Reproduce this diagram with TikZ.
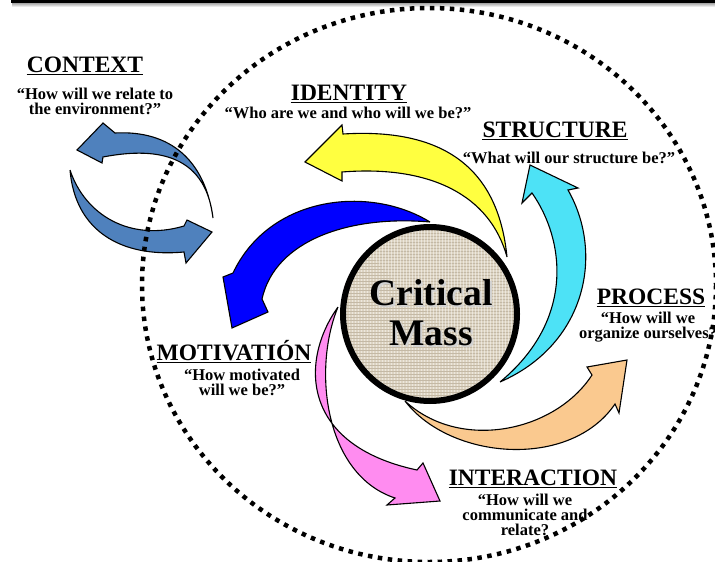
\documentclass[tikz,border=0pt]{standalone}
\usepackage{fontspec}
\setmainfont{Liberation Serif}
\definecolor{ctxblue}{RGB}{79,129,189}
\definecolor{idyellow}{RGB}{255,255,64}
\definecolor{motblue}{RGB}{0,0,255}
\definecolor{strcyan}{RGB}{77,226,246}
\definecolor{procpeach}{RGB}{250,201,143}
\definecolor{intpink}{RGB}{255,140,240}
\definecolor{linen}{RGB}{221,212,194}
\definecolor{linendark}{RGB}{196,185,165}
\begin{document}
\begin{tikzpicture}[x=1pt,y=-1pt,
    swirl/.style={draw=black,line width=1.1pt,line join=miter},
    headlabel/.style={font=\fontsize{23.5}{24}\selectfont\bfseries,inner sep=0pt,anchor=base},
    quotelabel/.style={font=\fontsize{16.5}{15}\selectfont\bfseries,inner sep=0pt,anchor=base,align=center},
    uline/.style={line width=1.6pt}]
  \useasboundingbox (0,0) rectangle (715,562);
  \clip (0,0) rectangle (715,562);
  % frame edge on top
  \shade[top color=gray!70,bottom color=white] (12,3) rectangle (715,7);
  \fill[black] (11,0) rectangle (715,3.2);

  % context arrows
  \filldraw[swirl,fill=ctxblue] (213,218) .. controls (205,160) and (170,130) .. (115,133)
    -- (103,123) -- (77,150) -- (102,163) -- (103,157) .. controls (150,148) and (205,150) .. (213,218);
  \filldraw[swirl,fill=ctxblue] (70,170) .. controls (75,230) and (120,258) .. (184,252)
    -- (186,263) -- (212,232) -- (187,220) -- (184,226) .. controls (130,242) and (85,215) .. (70,170);

  % dotted boundary
  \draw[line width=4.5pt,dash pattern=on 4.5pt off 5.5pt] (429,285) ellipse [x radius=287,y radius=277];

  % swirl arrows round the centre
  \filldraw[swirl,fill=idyellow] (507,257) .. controls (498,165) and (440,128) .. (343,134)
    -- (342,125) -- (305,162) -- (342,181) -- (342,172) .. controls (430,165) and (490,195) .. (507,257);
  \filldraw[swirl,fill=motblue] (430,222) .. controls (370,185) and (270,195) .. (233,273)
    -- (223,277) -- (232,328) -- (268,312) -- (262,299) .. controls (275,240) and (350,215) .. (430,222);
  \filldraw[swirl,fill=strcyan] (500,382) .. controls (585,345) and (605,255) .. (568,190)
    -- (578,188) -- (530,165) -- (522,203) -- (532,193) .. controls (565,240) and (575,320) .. (500,382);
  \filldraw[swirl,fill=procpeach] (405,401) .. controls (450,460) and (570,470) .. (615,404)
    -- (619,413) -- (627,360) -- (587,367) -- (592,375) .. controls (555,432) and (460,452) .. (405,401);
  \filldraw[swirl,fill=intpink] (338,307) .. controls (300,360) and (300,445) .. (417,470)
    -- (423,463) -- (440,501) -- (387,505) -- (395,498) .. controls (325,475) and (312,370) .. (338,307);

  % centre disc with linen weave
  \fill[linen] (430,314) circle (87);
  \begin{scope}
    \clip (430,314) circle (87);
    \foreach \k in {0,...,60} {
      \draw[linendark,line width=0.35pt] (343,227+3*\k) -- (517,227+3*\k);
      \draw[white,opacity=0.45,line width=0.35pt] (343+3*\k,227) -- (343+3*\k,401);
    }
  \end{scope}
  \draw[line width=6pt] (430,314) circle (87);
  \node[font=\fontsize{37.5}{40}\selectfont\bfseries,align=center,inner sep=0pt,anchor=base,text=gray!35]
    (massshadow) at (433,347) {Critical\\Mass};
  \node[font=\fontsize{37.5}{40}\selectfont\bfseries,align=center,inner sep=0pt,anchor=base]
    (mass) at (431,345) {Critical\\Mass};

  % labels
  \node[headlabel] (context) at (85,72) {CONTEXT};
  \node[quotelabel] (contextq) at (95,114) {“How will we relate to\\the environment?”};
  \node[headlabel] (identity) at (349,100) {IDENTITY};
  \node[quotelabel] (identityq) at (348,118) {“Who are we and who will we be?”};
  \node[headlabel] (structure) at (555,137) {STRUCTURE};
  \node[quotelabel] (structureq) at (569,163) {“What will our structure be?”};
  \node[headlabel] (process) at (651,304) {PROCESS};
  \node[quotelabel] (processq) at (648,338) {“How will we\\organize ourselves?};
  \node[headlabel] (motivation) at (234,360) {MOTIVATIÓN};
  \node[quotelabel] (motivationq) at (242,395) {“How motivated\\will we be?”};
  \node[headlabel] (interaction) at (533,485) {INTERACTION};
  \node[quotelabel] (interactionq) at (525,535) {“How will we\\communicate and\\relate?};
  \foreach \n in {context,identity,structure,process,motivation,interaction}
    \draw[uline] ([yshift=-2.6pt]\n.base west) -- ([yshift=-2.6pt]\n.base east);
\end{tikzpicture}
\end{document}
